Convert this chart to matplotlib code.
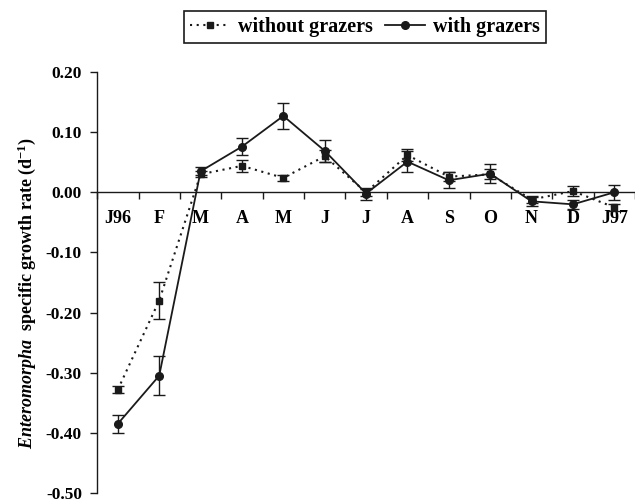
import matplotlib
matplotlib.use("Agg")
import matplotlib.pyplot as plt
from matplotlib.lines import Line2D
import numpy as np

months = ["J96", "F", "M", "A", "M", "J", "J", "A", "S", "O", "N", "D", "J97"]

with_grazers = [-0.385, -0.305, 0.035, 0.076, 0.127, 0.069, -0.002, 0.051, 0.020, 0.031, -0.015, -0.020, 0.000]
with_err = [0.015, 0.032, 0.007, 0.014, 0.022, 0.018, 0.010, 0.017, 0.013, 0.016, 0.007, 0.008, 0.012]

without_grazers = [-0.328, -0.180, 0.030, 0.044, 0.024, 0.060, 0.000, 0.062, 0.026, 0.030, -0.012, 0.002, -0.025]
without_err = [0.005, 0.030, 0.005, 0.010, 0.005, 0.010, 0.006, 0.010, 0.008, 0.008, 0.006, 0.008, 0.006]

y_ticks = [-0.50, -0.40, -0.30, -0.20, -0.10, 0.00, 0.10, 0.20]
y_ticklabels = ["-0.50", "-0.40", "-0.30", "-0.20", "-0.10", "0.00", "0.10", "0.20"]

plt.rcParams["mathtext.fontset"] = "custom"
plt.rcParams["mathtext.rm"] = "Liberation Serif:bold"
plt.rcParams["mathtext.it"] = "Liberation Serif:italic:bold"
plt.rcParams["mathtext.bf"] = "Liberation Serif:bold"

serif = "Liberation Serif"
col = "#1a1a1a"
dotted = (0, (1, 2.2))

fig = plt.figure(figsize=(6.35, 5.04), dpi=100)
ax = fig.add_axes([0.153, 0.022, 0.847, 0.835])

x = np.arange(len(months))

ax.errorbar(x, without_grazers, yerr=without_err, color=col, lw=1.5, ls=dotted,
            marker="s", ms=4, capsize=4, elinewidth=1.0, capthick=1.0, zorder=3)
ax.errorbar(x, with_grazers, yerr=with_err, color=col, lw=1.3, ls="-",
            marker="o", ms=5.5, capsize=4, elinewidth=1.0, capthick=1.0, zorder=4)

ax.set_xlim(-0.48, 12.43)
ax.set_ylim(-0.5, 0.2)

# x axis runs along zero; ticks between months, labels at months
ax.spines["bottom"].set_position(("data", 0))
ax.spines["top"].set_visible(False)
ax.spines["right"].set_visible(False)
for s in ("bottom", "left"):
    ax.spines[s].set_linewidth(1.0)
    ax.spines[s].set_color(col)

ax.set_xticks(np.arange(-0.5, 12.6, 1.0))
ax.set_xticklabels([])
ax.set_xticks(x, minor=True)
ax.set_xticklabels(months, minor=True, fontfamily=serif, fontweight="bold", fontsize=13)
ax.tick_params(axis="x", which="major", direction="out", length=5, width=1.0, color=col)
ax.tick_params(axis="x", which="minor", length=0, pad=13)

ax.set_yticks(y_ticks)
ax.set_yticklabels(y_ticklabels, fontfamily=serif, fontweight="bold", fontsize=12.5)
ax.tick_params(axis="y", direction="out", length=5, width=1.0, color=col, pad=6)

ax.set_ylabel(r"$\mathit{Enteromorpha}$  specific growth rate (d$^{-1}$)",
              fontfamily=serif, fontweight="bold", fontsize=13)
ax.yaxis.set_label_coords(-0.11, 0.475)

handles = [
    Line2D([], [], color=col, lw=1.5, ls=dotted, marker="s", ms=4),
    Line2D([], [], color=col, lw=1.3, ls="-", marker="o", ms=5.5),
]
leg = fig.legend(handles, ["without grazers", "with grazers"], loc="center",
                 bbox_to_anchor=(0.575, 0.946), ncol=2, frameon=True,
                 fancybox=False, edgecolor=col, framealpha=1,
                 prop={"family": serif, "weight": "bold", "size": 14.5},
                 handlelength=2.0, handletextpad=0.4, columnspacing=0.6,
                 borderpad=0.3)
leg.get_frame().set_linewidth(1.2)

fig.savefig("out.png", dpi=100)
